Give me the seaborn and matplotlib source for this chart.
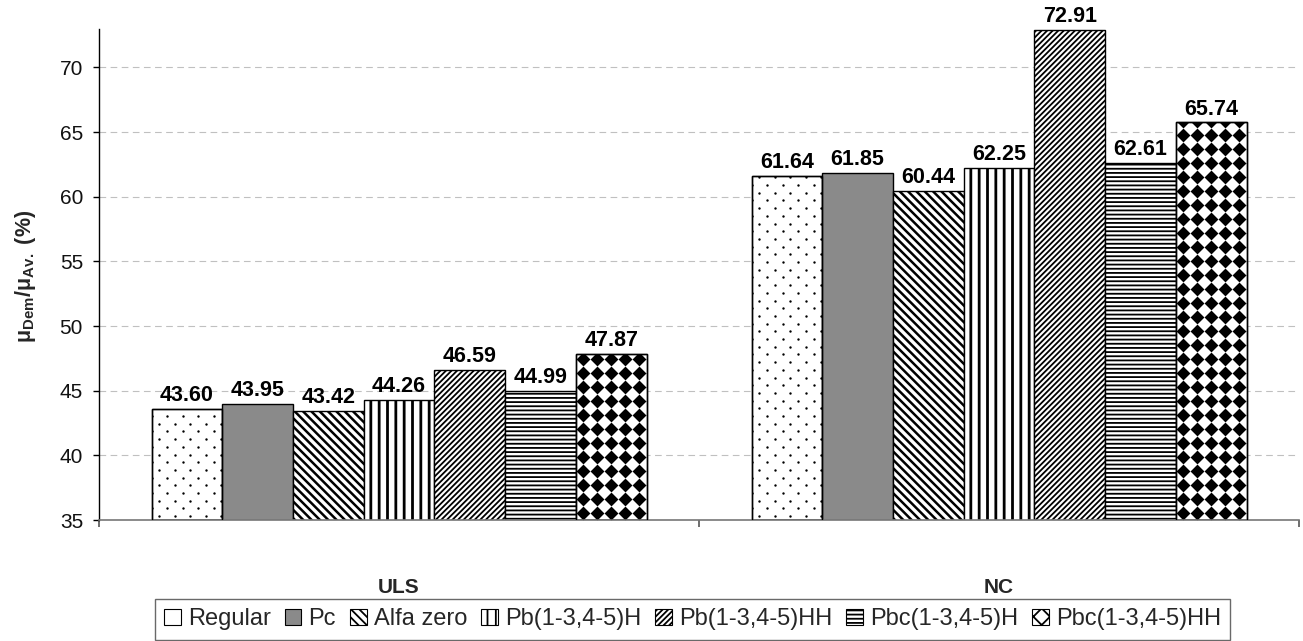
import numpy as np
import pandas as pd
import matplotlib
matplotlib.use("Agg")
import matplotlib.pyplot as plt
from matplotlib.patches import Patch
import seaborn as sns

# ---- data -------------------------------------------------------------
cases = ["ULS", "NC"]
methods = ["Regular", "Pc", "Alfa zero", "Pb(1-3,4-5)H", "Pb(1-3,4-5)HH",
           "Pbc(1-3,4-5)H", "Pbc(1-3,4-5)HH"]
uls_values = [43.60, 43.95, 43.42, 44.26, 46.59, 44.99, 47.87]
nc_values = [61.64, 61.85, 60.44, 62.25, 72.91, 62.61, 65.74]
y_ticks = [35, 40, 45, 50, 55, 60, 65, 70]

df = pd.DataFrame({
    "case": np.repeat(cases, len(methods)),
    "method": methods * len(cases),
    "value": uls_values + nc_values,
})

# ---- style ------------------------------------------------------------
sns.set_theme(style="white")
plt.rcParams["font.family"] = ["Liberation Sans", "DejaVu Sans"]
plt.rcParams["mathtext.fontset"] = "custom"
plt.rcParams["mathtext.rm"] = "Liberation Sans"
plt.rcParams["mathtext.bf"] = "Liberation Sans:bold"
plt.rcParams["hatch.linewidth"] = 1.3
plt.rcParams["hatch.color"] = "black"

# fill / hatch per method ("Regular" and the last series get a marker texture)
faces = ["white", "#8a8a8a", "white", "white", "white", "white", "white"]
hatches = [None, None, "\\\\\\\\", "||", "//////", "----", None]
hatch_widths = [1.0, 1.0, 1.8, 2.0, 1.3, 1.3, 1.0]

W, H = 1303, 641
fig = plt.figure(figsize=(W / 100, H / 100), dpi=100)
ax_left, ax_right, ax_top, ax_bottom = 99, 1299, 28.6, 520
ax = fig.add_axes([ax_left / W, 1 - ax_bottom / H,
                   (ax_right - ax_left) / W, (ax_bottom - ax_top) / H])

sns.barplot(data=df, x="case", y="value", hue="method", order=cases,
            hue_order=methods, width=0.825, gap=0, palette=["white"] * 7,
            edgecolor="black", linewidth=1.0, saturation=1, legend=False,
            ax=ax, zorder=2)

ax.set_xlim(-0.5, 1.5)
ax.set_ylim(35, 73.0)

for i, cont in enumerate(ax.containers):
    for bar in cont:
        bar.set_facecolor(faces[i])
        bar.set_edgecolor("black")
        if hatches[i]:
            bar.set_hatch(hatches[i])
            if hasattr(bar, "set_hatch_linewidth"):
                bar.set_hatch_linewidth(hatch_widths[i])
    ax.bar_label(cont, fmt="%.2f", padding=2, fontsize=15.5,
                 fontweight="bold", color="black", clip_on=False)

# marker textures clipped to bars
ax_w_px = ax_right - ax_left
ax_h_px = ax_bottom - ax_top
px_x = 2.0 / ax_w_px                    # data units per pixel, x
px_y = (73.0 - 35.0) / ax_h_px          # data units per pixel, y


def texture(bar, step_x, step_y, marker, size, stagger):
    x0, w, top = bar.get_x(), bar.get_width(), bar.get_height()
    dx, dy = step_x * px_x, step_y * px_y
    pts_x, pts_y = [], []
    for r, y in enumerate(np.arange(35 + dy / 2, top + dy, dy)):
        shift = dx / 2 if (stagger and r % 2) else 0.0
        xs = np.arange(x0 + dx / 2 + shift - dx, x0 + w + dx, dx)
        pts_x.extend(xs)
        pts_y.extend([y] * len(xs))
    sc = ax.scatter(pts_x, pts_y, marker=marker, s=size, color="black",
                    linewidths=0, zorder=2.5)
    sc.set_clip_path(bar)
    ax.add_patch(plt.Rectangle((x0, 35), w, top - 35, fill=False,
                               edgecolor="black", linewidth=1.0, zorder=2.6))


for bar in ax.containers[0]:
    texture(bar, 15.5, 7.7, "o", 3.0, True)
for bar in ax.containers[-1]:
    texture(bar, 14.0, 14.0, "D", 50, False)

# grid, spines, ticks
ax.set_yticks(y_ticks)
ax.yaxis.grid(True, color="#c0c0c0", linestyle=(0, (6, 4)), linewidth=0.8)
ax.set_axisbelow(True)
for side in ["top", "right"]:
    ax.spines[side].set_visible(False)
ax.spines["left"].set_color("black")
ax.spines["left"].set_linewidth(1.0)
ax.spines["bottom"].set_color("#777777")
ax.spines["bottom"].set_linewidth(1.2)

ax.tick_params(axis="y", direction="out", length=4, width=1.0, color="black",
               pad=7.5, labelsize=15, labelcolor="#111111", left=True)
ax.set_xticks([0, 1])
ax.set_xticklabels(cases, fontsize=15, fontweight="bold")
ax.set_xticks([-0.5, 0.5, 1.5], minor=True)
ax.tick_params(axis="x", which="major", length=0, pad=42)
ax.tick_params(axis="x", which="minor", direction="out", length=5,
               width=1.2, color="#555555", bottom=True)
ax.set_xlabel("")
ax.set_ylabel("")

fig.text(26 / W, 1 - 276 / H,
         r"μ$_{\mathbf{Dem}}$/μ$_{\mathbf{Av.}}$ (%)",
         rotation=90, ha="center", va="center", fontsize=15.5,
         fontweight="bold")

# legend
handles = []
for i, m in enumerate(methods):
    if i == 0:
        handles.append(Patch(facecolor="white", edgecolor="black",
                             linewidth=0.8, label=m))
    elif i == len(methods) - 1:
        handles.append(Patch(facecolor="white", edgecolor="black",
                             hatch="xx", linewidth=0.8, label=m))
    else:
        handles.append(Patch(facecolor=faces[i], edgecolor="black",
                             hatch=hatches[i], linewidth=0.8, label=m))
leg = fig.legend(handles=handles, loc="upper center",
                 bbox_to_anchor=(692.5 / W, 1 - 599 / H), ncol=7,
                 fontsize=17, frameon=True, fancybox=False,
                 edgecolor="#444444", handlelength=0.7, handleheight=0.7,
                 handletextpad=0.3, columnspacing=0.6, borderpad=0.4,
                 borderaxespad=0)
leg.get_frame().set_linewidth(1.0)

fig.savefig("out.png", dpi=100)
